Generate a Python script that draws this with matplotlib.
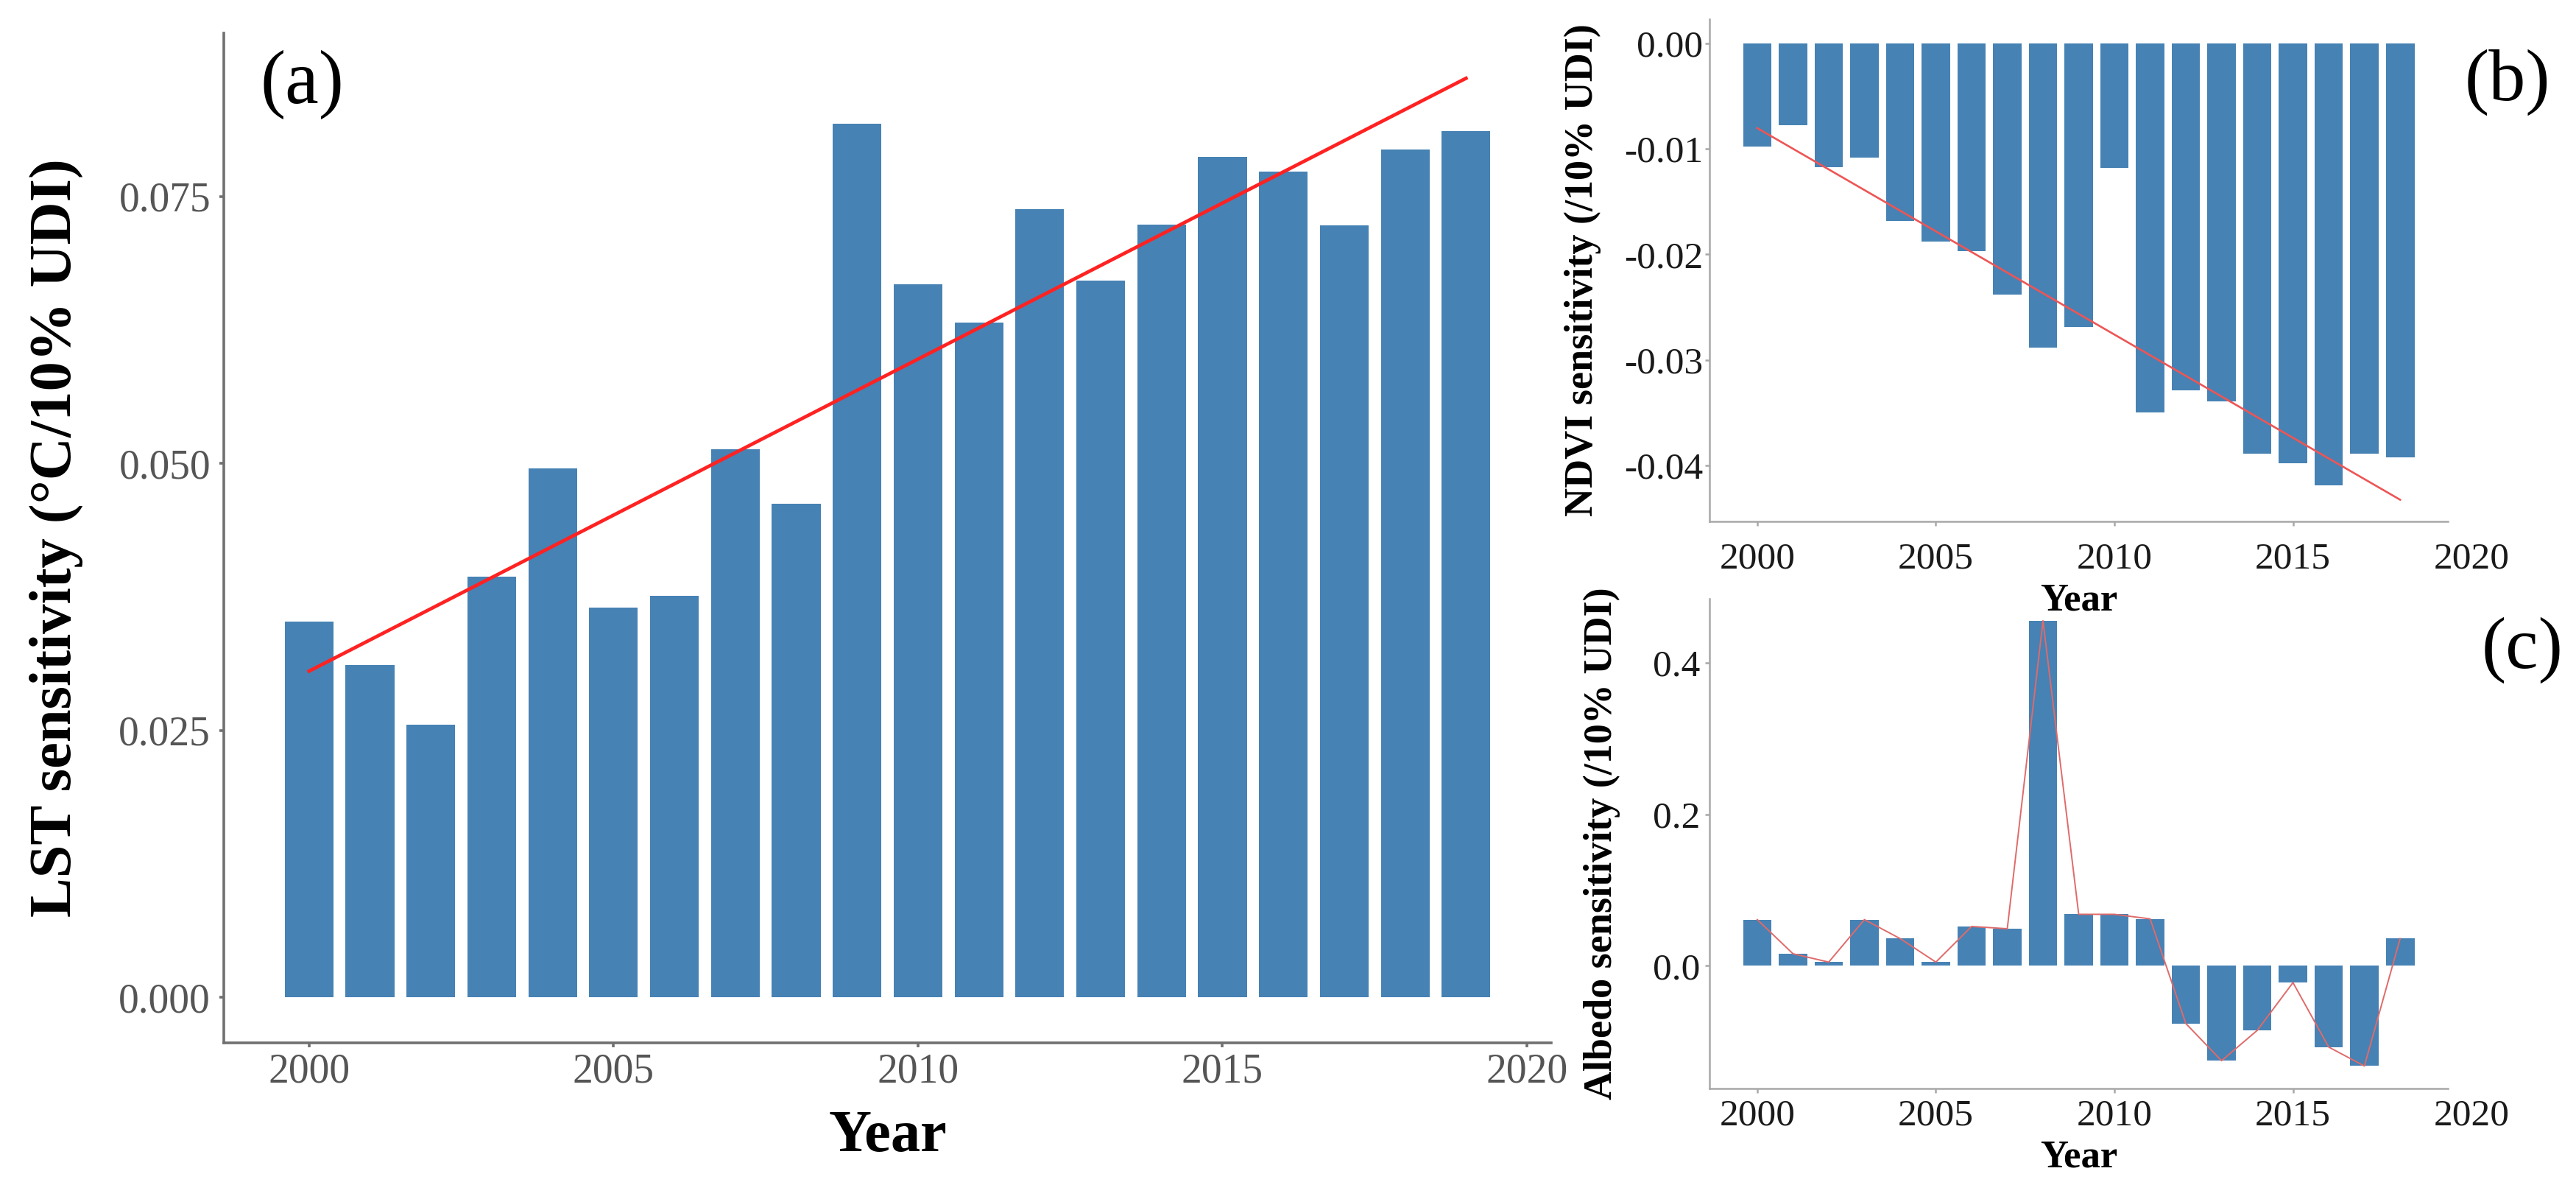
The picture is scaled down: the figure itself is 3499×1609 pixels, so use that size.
import numpy as np
import matplotlib
matplotlib.use('Agg')
import matplotlib.pyplot as plt
from matplotlib.ticker import FormatStrFormatter

plt.rcParams['font.family'] = ['Liberation Serif', 'DejaVu Serif']

# data
years_a = list(range(2000, 2020))
lst_sens = [0.0352, 0.0311, 0.0255, 0.0394, 0.0495, 0.0365, 0.0376, 0.0513, 0.0462, 0.0818,
            0.0668, 0.0632, 0.0738, 0.0671, 0.0724, 0.0787, 0.0773, 0.0723, 0.0794, 0.0811]

years_bc = list(range(2000, 2019))
ndvi_sens = [-0.0098, -0.00775, -0.0117, -0.0108, -0.0168, -0.0188, -0.0197, -0.0238, -0.0288, -0.0269,
             -0.0118, -0.0350, -0.0329, -0.0339, -0.0389, -0.0398, -0.0419, -0.0389, -0.0392]
albedo_sens = [0.061, 0.016, 0.005, 0.061, 0.036, 0.005, 0.052, 0.049, 0.455, 0.068,
               0.068, 0.062, -0.076, -0.125, -0.085, -0.022, -0.107, -0.132, 0.036]

bar_col = '#4682B4'

fig = plt.figure(figsize=(34.99, 16.09), dpi=100)

ax_a = fig.add_axes([0.0869, 0.1199, 0.5153, 0.8521])
ax_b = fig.add_axes([0.6636, 0.5600, 0.2867, 0.4239])
ax_c = fig.add_axes([0.6636, 0.0814, 0.2867, 0.4133])
# keep (b)'s "Year" visible over (c)'s blank area
ax_c.patch.set_visible(False)
ax_b.set_zorder(2)


def style(ax, spine_col, lw, tick_col, tsize, xpad, ypad):
    for s in ['top', 'right']:
        ax.spines[s].set_visible(False)
    for s in ['left', 'bottom']:
        ax.spines[s].set_color(spine_col)
        ax.spines[s].set_linewidth(lw)
    ax.tick_params(axis='x', colors=spine_col, labelcolor=tick_col, labelsize=tsize,
                   length=4, width=lw, pad=xpad)
    ax.tick_params(axis='y', colors=spine_col, labelcolor=tick_col, labelsize=tsize,
                   length=4, width=lw, pad=ypad)


# (a) LST
ax_a.bar(years_a, lst_sens, width=0.8, color=bar_col, zorder=2)
k, b = np.polyfit(years_a, lst_sens, 1)
xa = np.array([years_a[0], years_a[-1]])
ax_a.plot(xa, k * xa + b, color='#FF2222', lw=3.4, zorder=3)
ax_a.set_xlim(1998.6, 2020.4)
ax_a.set_ylim(-0.00428, 0.0903)
ax_a.set_xticks([2000, 2005, 2010, 2015, 2020])
ax_a.set_yticks([0.0, 0.025, 0.05, 0.075])
ax_a.yaxis.set_major_formatter(FormatStrFormatter('%.3f'))
style(ax_a, '#707070', 2.6, '#555555', 40, 6, 9)
ax_a.set_ylabel('LST sensitivity (°C/10% UDI)', fontsize=58, fontweight='bold', va='center')
ax_a.yaxis.set_label_coords(-0.126, 0.5)
ax_a.set_xlabel('Year', fontsize=58, fontweight='bold', va='center')
ax_a.xaxis.set_label_coords(0.5, -0.093)

# (b) NDVI
ax_b.bar(years_bc, ndvi_sens, width=0.8, color=bar_col, zorder=2)
k, b = np.polyfit(years_bc, ndvi_sens, 1)
xb = np.array([years_bc[0], years_bc[-1]])
ax_b.plot(xb, k * xb + b, color='#EE5555', lw=1.9, zorder=3)
ax_b.set_xlim(1998.66, 2019.34)
ax_b.set_ylim(-0.0453, 0.0023)
ax_b.set_xticks([2000, 2005, 2010, 2015])
ax_b.set_yticks([0.0, -0.01, -0.02, -0.03, -0.04])
ax_b.yaxis.set_major_formatter(FormatStrFormatter('%.2f'))
style(ax_b, '#A8A8A8', 1.8, '#1a1a1a', 37, 16, 2)
ax_b.set_ylabel('NDVI sensitivity (/10% UDI)', fontsize=39, fontweight='bold', va='center')
ax_b.yaxis.set_label_coords(-0.1715, 0.5)
ax_b.set_xlabel('Year', fontsize=38, fontweight='bold', va='center')
ax_b.xaxis.set_label_coords(0.5, -0.158)
ax_b.annotate('2020', xy=(2020, 0), xycoords=('data', 'axes fraction'),
              xytext=(0, -20), textcoords='offset points', ha='center', va='top',
              fontsize=37, color='#1a1a1a', annotation_clip=False)

# (c) Albedo
ax_c.bar(years_bc, albedo_sens, width=0.8, color=bar_col, zorder=2)
ax_c.plot(years_bc, albedo_sens, color='#E06A6A', lw=1.4, zorder=3)
ax_c.set_xlim(1998.66, 2019.34)
ax_c.set_ylim(-0.1617, 0.484)
ax_c.set_xticks([2000, 2005, 2010, 2015])
ax_c.set_yticks([0.0, 0.2, 0.4])
ax_c.yaxis.set_major_formatter(FormatStrFormatter('%.1f'))
style(ax_c, '#A8A8A8', 1.8, '#1a1a1a', 37, 6, 5)
ax_c.set_ylabel('Albedo sensitivity (/10% UDI)', fontsize=39, fontweight='bold', va='center')
ax_c.yaxis.set_label_coords(-0.146, 0.5)
ax_c.set_xlabel('Year', fontsize=38, fontweight='bold', va='center')
ax_c.xaxis.set_label_coords(0.5, -0.141)
ax_c.annotate('2020', xy=(2020, 0), xycoords=('data', 'axes fraction'),
              xytext=(0, -10), textcoords='offset points', ha='center', va='top',
              fontsize=37, color='#1a1a1a', annotation_clip=False)

fig.text(0.1172, 0.9285, '(a)', fontsize=74, ha='center', va='center')
fig.text(0.9734, 0.9304, '(b)', fontsize=72, ha='center', va='center')
fig.text(0.9791, 0.4512, '(c)', fontsize=72, ha='center', va='center')

fig.savefig('out.png', dpi=100)
